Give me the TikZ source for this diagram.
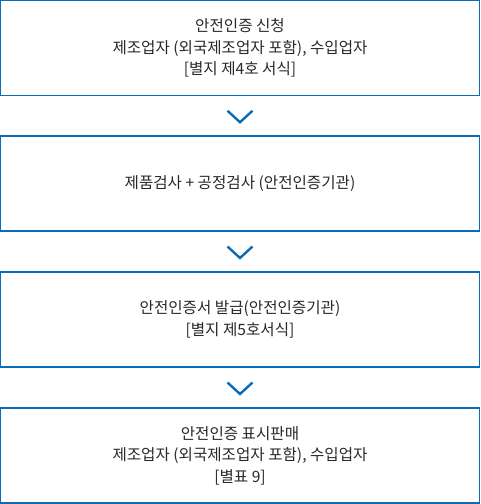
\documentclass[tikz,border=0pt]{standalone}
\usepackage{fontspec}
\setmainfont{Noto Sans CJK KR}
\usetikzlibrary{calc}
\definecolor{boxblue}{RGB}{10,108,182}
\definecolor{txtgray}{RGB}{40,40,40}
\tikzset{
  stagebox/.style={draw=boxblue, line width=1.1pt, minimum width=479pt, minimum height=95pt,
    inner sep=0pt, align=center, text=txtgray, font=\fontsize{15.6}{21.5}\selectfont},
  chev/.style={draw=boxblue, line width=2.4pt, line join=miter}
}
\begin{document}
\begin{tikzpicture}[x=1pt,y=-1pt]
\useasboundingbox (0,0) rectangle (480,504);
\node[stagebox] (b1) at (240,48) {안전인증 신청\\제조업자 (외국제조업자 포함), 수입업자\\{[}별지 제4호 서식{]}};
\node[stagebox] (b2) at (240,183.5) {제품검사 + 공정검사 (안전인증기관)};
\node[stagebox] (b3) at (240,319.5) {안전인증서 발급(안전인증기관)\\{[}별지 제5호서식{]}};
\node[stagebox] (b4) at (240,455.5) {안전인증 표시판매\\제조업자 (외국제조업자 포함), 수입업자\\{[}별표 9{]}};
\foreach \a/\b in {b1/b2,b2/b3,b3/b4}{
  \coordinate (m) at ($(\a.south)!0.5!(\b.north)$);
  \draw[chev] ($(m)+(-12.5,-5)$) -- ($(m)+(0,6.5)$) -- ($(m)+(12.5,-5)$);
}
\end{tikzpicture}
\end{document}
